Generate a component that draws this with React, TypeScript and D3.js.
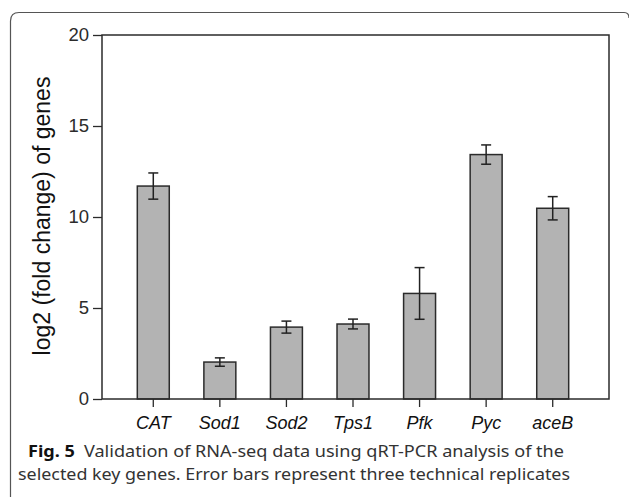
import * as d3 from 'd3';
import React, { useRef, useEffect } from 'react';

const genes = ['CAT', 'Sod1', 'Sod2', 'Tps1', 'Pfk', 'Pyc', 'aceB'];
const foldChange = [11.7, 2.03, 3.95, 4.12, 5.8, 13.43, 10.48];
const errors = [0.72, 0.23, 0.33, 0.27, 1.42, 0.53, 0.64];
const yTicks = [0, 5, 10, 15, 20];

const W = 629;
const H = 497;

function App() {
    const ref = useRef(null);

    useEffect(() => {
        const svg = d3.select(ref.current);
        svg.selectAll('*').remove();

        const left = 102, right = 609, top = 35, bottom = 399;
        const ink = '#2b2b2b';

        // rounded frame, open at the bottom
        svg.append('path')
            .attr('d', `M10.5,${H} L10.5,21 Q10.5,12.5 19,12.5 L${W - 5},12.5 Q${W},12.5 ${W},18`)
            .attr('fill', 'none')
            .attr('stroke', '#555')
            .attr('stroke-width', 1.2);

        const x = d3.scaleBand().domain(genes).range([120, 586]).paddingInner(0.52).paddingOuter(0.26);
        const y = d3.scaleLinear().domain([0, 20]).range([bottom, top]);

        const yAxis = svg.append('g')
            .attr('transform', `translate(${left},0)`)
            .call(d3.axisLeft(y).tickValues(yTicks).tickSize(9).tickPadding(4));
        yAxis.select('.domain').remove();
        yAxis.selectAll('line').attr('stroke', ink).attr('stroke-width', 1.3);
        yAxis.selectAll('text')
            .attr('fill', ink)
            .style('font-family', 'Liberation Sans, Arial, sans-serif')
            .style('font-size', '18.5px');

        const xAxis = svg.append('g')
            .attr('transform', `translate(0,${bottom})`)
            .call(d3.axisBottom(x).tickSize(8).tickPadding(9));
        xAxis.select('.domain').remove();
        xAxis.selectAll('line').attr('stroke', ink).attr('stroke-width', 1.3);
        xAxis.selectAll('text')
            .attr('fill', '#111')
            .style('font-family', 'Liberation Sans, Arial, sans-serif')
            .style('font-style', 'italic')
            .style('font-size', '18px');

        svg.selectAll('rect.bar')
            .data(foldChange)
            .enter()
            .append('rect')
            .attr('class', 'bar')
            .attr('x', (d, i) => x(genes[i]))
            .attr('y', (d) => y(d))
            .attr('width', x.bandwidth())
            .attr('height', (d) => y(0) - y(d))
            .attr('fill', '#b3b3b3')
            .attr('stroke', ink)
            .attr('stroke-width', 1.5);

        const eb = svg.append('g').attr('stroke', '#222').attr('stroke-width', 1.5);
        foldChange.forEach((d, i) => {
            const cx = x(genes[i]) + x.bandwidth() / 2;
            eb.append('line').attr('x1', cx).attr('x2', cx).attr('y1', y(d + errors[i])).attr('y2', y(d - errors[i]));
            eb.append('line').attr('x1', cx - 5).attr('x2', cx + 5).attr('y1', y(d + errors[i])).attr('y2', y(d + errors[i]));
            eb.append('line').attr('x1', cx - 5).attr('x2', cx + 5).attr('y1', y(d - errors[i])).attr('y2', y(d - errors[i]));
        });

        // plot frame
        svg.append('rect')
            .attr('x', left).attr('y', top)
            .attr('width', right - left).attr('height', bottom - top)
            .attr('fill', 'none')
            .attr('stroke', ink)
            .attr('stroke-width', 1.5);

        svg.append('text')
            .attr('transform', `translate(50,216) rotate(-90)`)
            .attr('text-anchor', 'middle')
            .attr('fill', '#111')
            .style('font-family', 'Liberation Sans, Arial, sans-serif')
            .style('font-size', '23px')
            .text('log2 (fold change) of genes');

        const cap = svg.append('g')
            .attr('fill', '#333')
            .style('font-family', 'Noto Sans, Open Sans, sans-serif')
            .style('font-size', '16px');
        const l1 = cap.append('text').attr('x', 28).attr('y', 457)
            .attr('textLength', 536).attr('lengthAdjust', 'spacingAndGlyphs');
        l1.append('tspan').style('font-weight', 'bold').attr('fill', '#111').text('Fig. 5');
        l1.append('tspan').text('\u2002Validation of RNA-seq data using qRT-PCR analysis of the');
        cap.append('text').attr('x', 18).attr('y', 480)
            .attr('textLength', 552).attr('lengthAdjust', 'spacingAndGlyphs')
            .text('selected key genes. Error bars represent three technical replicates');
    }, []);

    return (
        <svg ref={ref} width={W} height={H} style={{ display: 'block', position: 'absolute', left: 0, top: 0 }}>
        </svg>
    );
}

export default App;
